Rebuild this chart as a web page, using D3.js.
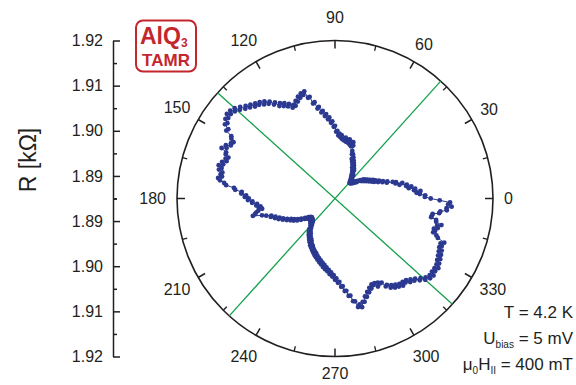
<!DOCTYPE html>
<html>
<head>
<meta charset="utf-8">
<script src="https://cdn.jsdelivr.net/npm/d3@7"></script>
<style>
  body { margin: 0; background: #fff; }
  svg { display: block; font-family: "Liberation Sans", Arial, sans-serif; }
</style>
</head>
<body>
<script>
// measurement angle (deg) and resistance (kOhm), one point per degree
const angleDeg = [
  0,1,2,3,4,5,6,7,8,9,10,11,12,13,14,15,16,17,18,19,
  20,21,22,23,24,25,26,27,28,29,30,31,32,33,34,35,36,37,38,39,
  40,41,42,43,44,45,46,47,48,49,50,51,52,53,54,55,56,57,58,59,
  60,61,62,63,64,65,66,67,68,69,70,71,72,73,74,75,76,77,78,79,
  80,81,82,83,84,85,86,87,88,89,90,91,92,93,94,95,96,97,98,99,
  100,101,102,103,104,105,106,107,108,109,110,111,112,113,114,115,116,117,118,119,
  120,121,122,123,124,125,126,127,128,129,130,131,132,133,134,135,136,137,138,139,
  140,141,142,143,144,145,146,147,148,149,150,151,152,153,154,155,156,157,158,159,
  160,161,162,163,164,165,166,167,168,169,170,171,172,173,174,175,176,177,178,179,
  180,181,182,183,184,185,186,187,188,189,190,191,192,193,194,195,196,197,198,199,
  200,201,202,203,204,205,206,207,208,209,210,211,212,213,214,215,216,217,218,219,
  220,221,222,223,224,225,226,227,228,229,230,231,232,233,234,235,236,237,238,239,
  240,241,242,243,244,245,246,247,248,249,250,251,252,253,254,255,256,257,258,259,
  260,261,262,263,264,265,266,267,268,269,270,271,272,273,274,275,276,277,278,279,
  280,281,282,283,284,285,286,287,288,289,290,291,292,293,294,295,296,297,298,299,
  300,301,302,303,304,305,306,307,308,309,310,311,312,313,314,315,316,317,318,319,
  320,321,322,323,324,325,326,327,328,329,330,331,332,333,334,335,336,337,338,339,
  340,341,342,343,344,345,346,347,348,349,350,351,352,353,354,355,356,357,358,359
];
const resistance = [
  1.9062,1.9049,1.9050,1.9038,1.9031,1.9040,1.9026,1.9029,1.9015,1.9021,
  1.9010,1.9012,1.8996,1.9003,1.8988,1.8990,1.8983,1.8970,1.8972,1.8961,
  1.8963,1.8952,1.8955,1.8944,1.8948,1.8939,1.8944,1.8934,1.8938,1.8929,
  1.8933,1.8925,1.8929,1.8921,1.8926,1.8918,1.8919,1.8910,1.8913,1.8905,
  1.8909,1.8902,1.8906,1.8899,1.8904,1.8898,1.8902,1.8897,1.8905,1.8901,
  1.8909,1.8905,1.8915,1.8910,1.8918,1.8914,1.8925,1.8920,1.8929,1.8925,
  1.8934,1.8929,1.8939,1.8935,1.8944,1.8940,1.8950,1.8945,1.8956,1.8955,
  1.8962,1.8974,1.8981,1.8971,1.8979,1.8974,1.8985,1.8977,1.8983,1.8978,
  1.8987,1.8980,1.8984,1.8982,1.8991,1.8986,1.8994,1.8990,1.9000,1.8998,
  1.9011,1.9009,1.9021,1.9018,1.9030,1.9026,1.9038,1.9034,1.9046,1.9043,
  1.9056,1.9053,1.9068,1.9066,1.9082,1.9081,1.9097,1.9090,1.9095,1.9086,
  1.9090,1.9080,1.9083,1.9073,1.9077,1.9072,1.9083,1.9079,1.9089,1.9084,
  1.9094,1.9089,1.9101,1.9098,1.9109,1.9106,1.9116,1.9111,1.9121,1.9117,
  1.9125,1.9120,1.9130,1.9126,1.9135,1.9131,1.9142,1.9138,1.9149,1.9144,
  1.9153,1.9147,1.9154,1.9146,1.9150,1.9141,1.9144,1.9132,1.9134,1.9118,
  1.9115,1.9107,1.9111,1.9109,1.9119,1.9115,1.9125,1.9112,1.9111,1.9103,
  1.9108,1.9104,1.9113,1.9109,1.9118,1.9110,1.9115,1.9106,1.9109,1.9105,
  1.9113,1.9108,1.9098,1.9093,1.9075,1.9072,1.9057,1.9058,1.9047,1.9050,
  1.9041,1.9043,1.9033,1.9034,1.9023,1.9025,1.9016,1.9020,1.9013,1.9022,
  1.9027,1.9030,1.9036,1.9016,1.9007,1.8996,1.8998,1.8988,1.8990,1.8980,
  1.8983,1.8973,1.8975,1.8965,1.8967,1.8957,1.8960,1.8951,1.8954,1.8944,
  1.8947,1.8937,1.8939,1.8929,1.8931,1.8922,1.8926,1.8918,1.8923,1.8916,
  1.8922,1.8917,1.8924,1.8918,1.8925,1.8920,1.8928,1.8923,1.8931,1.8928,
  1.8938,1.8934,1.8944,1.8940,1.8949,1.8944,1.8953,1.8949,1.8958,1.8953,
  1.8962,1.8957,1.8967,1.8963,1.8971,1.8966,1.8975,1.8971,1.8979,1.8975,
  1.8983,1.8978,1.8987,1.8983,1.8991,1.8987,1.8995,1.8991,1.8999,1.8995,
  1.9004,1.8999,1.9008,1.9004,1.9012,1.9009,1.9018,1.9014,1.9023,1.9020,
  1.9030,1.9027,1.9037,1.9035,1.9046,1.9045,1.9056,1.9056,1.9068,1.9068,
  1.9081,1.9082,1.9096,1.9091,1.9098,1.9087,1.9088,1.9077,1.9079,1.9069,
  1.9071,1.9062,1.9065,1.9057,1.9060,1.9057,1.9067,1.9059,1.9063,1.9063,
  1.9075,1.9073,1.9083,1.9079,1.9088,1.9083,1.9091,1.9087,1.9095,1.9088,
  1.9093,1.9090,1.9099,1.9095,1.9103,1.9101,1.9111,1.9109,1.9119,1.9116,
  1.9125,1.9120,1.9127,1.9119,1.9124,1.9119,1.9126,1.9118,1.9122,1.9114,
  1.9119,1.9111,1.9116,1.9108,1.9113,1.9105,1.9109,1.9104,1.9111,1.9094,
  1.9089,1.9080,1.9083,1.9079,1.9087,1.9084,1.9093,1.9080,1.9079,1.9067,
  1.9068,1.9069,1.9083,1.9085,1.9099,1.9098,1.9109,1.9101,1.9105,1.9082
];
const angleTicks = [0,30,60,90,120,150,180,210,240,270,300,330];
const angleMinor = [15,45,75,105,135,165,195,225,255,285,315,345];
const rTicks = [1.89,1.90,1.91,1.92];
const rMinor = [1.885,1.895,1.905,1.915];
const guideAngles = [48,138];
const infoLines = ["T = 4.2 K", "U|bias| = 5 mV", "μ|0|H|II| = 400 mT"];

const W = 576, H = 385;
const cx = 335, cy = 198.5, outerR = 158;
const ink = "#231f20", blue = "#2b3990", green = "#13a04a", red = "#c4262e";

const svg = d3.select("body").append("svg").attr("width", W).attr("height", H);

const rScale = d3.scaleLinear().domain([1.885, 1.92]).range([0, outerR]);
const rad = a => a * Math.PI / 180;
const px = (a, r) => cx + r * Math.cos(rad(a));
const py = (a, r) => cy - r * Math.sin(rad(a));

// ---- left radial axis (mirrored)
const yTop = d3.scaleLinear().domain([1.885, 1.92]).range([cy, cy - outerR]);
const yBot = d3.scaleLinear().domain([1.885, 1.92]).range([cy, cy + outerR]);
[yTop, yBot].forEach(s => {
  const g = svg.append("g").attr("transform", "translate(113,0)");
  g.call(d3.axisLeft(s).tickValues(rTicks).tickFormat(d3.format(".2f"))
    .tickSizeInner(-7).tickSizeOuter(0).tickPadding(10));
  g.append("g").call(d3.axisLeft(s).tickValues(rMinor).tickFormat("")
    .tickSizeInner(-4).tickSizeOuter(0))
    .select(".domain").remove();
  g.selectAll("path, line").attr("stroke", ink).attr("stroke-width", 1.5);
  g.selectAll("text").attr("fill", ink).attr("font-size", 16)
    .attr("font-family", "Liberation Sans, Arial, sans-serif");
});

svg.append("text")
  .attr("transform", "translate(36,160) rotate(-90)")
  .attr("text-anchor", "middle")
  .attr("font-size", 23).attr("fill", ink)
  .text("R [kΩ]");

// ---- polar frame
const polar = svg.append("g");
polar.append("circle").attr("cx", cx).attr("cy", cy).attr("r", outerR)
  .attr("fill", "none").attr("stroke", ink).attr("stroke-width", 1.6);

polar.selectAll(".tmaj").data(angleTicks).enter().append("line")
  .attr("x1", d => px(d, outerR)).attr("y1", d => py(d, outerR))
  .attr("x2", d => px(d, outerR - 8)).attr("y2", d => py(d, outerR - 8))
  .attr("stroke", ink).attr("stroke-width", 1.5);
polar.selectAll(".tmin").data(angleMinor).enter().append("line")
  .attr("x1", d => px(d, outerR)).attr("y1", d => py(d, outerR))
  .attr("x2", d => px(d, outerR - 5)).attr("y2", d => py(d, outerR - 5))
  .attr("stroke", ink).attr("stroke-width", 1.3);

polar.selectAll(".alab").data(angleTicks).enter().append("text")
  .each(function (d) {
    let r = 169 + String(d).length * 4.45;
    if (d === 90) r = 181;
    if (d === 270) r = 174.5;
    d3.select(this).attr("x", px(d, r)).attr("y", py(d, r));
  })
  .attr("text-anchor", "middle").attr("dominant-baseline", "central")
  .attr("font-size", 16).attr("fill", ink)
  .text(d => d);

// guide lines
polar.selectAll(".guide").data(guideAngles).enter().append("line")
  .attr("x1", d => px(d, outerR)).attr("y1", d => py(d, outerR))
  .attr("x2", d => px(d + 180, outerR)).attr("y2", d => py(d + 180, outerR))
  .attr("stroke", green).attr("stroke-width", 1.3);

// ---- data
const pts = angleDeg.map((a, i) => ({ a: a, v: resistance[i] }));
const line = d3.lineRadial()
  .angle(d => rad(90 - d.a))
  .radius(d => rScale(d.v))
  .curve(d3.curveLinearClosed);

const dataG = svg.append("g").attr("transform", `translate(${cx},${cy})`);
dataG.append("path").datum(pts).attr("d", line)
  .attr("fill", "none").attr("stroke", blue).attr("stroke-width", 1);
dataG.selectAll("circle").data(pts).enter().append("circle")
  .attr("cx", d => rScale(d.v) * Math.cos(rad(d.a)))
  .attr("cy", d => -rScale(d.v) * Math.sin(rad(d.a)))
  .attr("r", 2.4).attr("fill", blue);

// ---- badge
const badge = svg.append("g");
badge.append("rect").attr("x", 136).attr("y", 20.5).attr("width", 60).attr("height", 51)
  .attr("rx", 7).attr("fill", "#fff").attr("stroke", red).attr("stroke-width", 2);
const t1 = badge.append("text").attr("x", 140).attr("y", 44)
  .attr("font-size", 23).attr("font-weight", "bold").attr("fill", red);
t1.append("tspan").text("AlQ");
t1.append("tspan").attr("font-size", 12).attr("dy", 3).text("3");
badge.append("text").attr("x", 166).attr("y", 66).attr("text-anchor", "middle")
  .attr("font-size", 17).attr("font-weight", "bold").attr("fill", red).text("TAMR");

// ---- info text (parts between | are subscripts)
infoLines.forEach((s, i) => {
  const t = svg.append("text").attr("x", 573).attr("y", 318 + i * 26)
    .attr("text-anchor", "end").attr("font-size", 17).attr("fill", ink);
  s.split("|").forEach((part, j) => {
    if (!part) return;
    const sp = t.append("tspan").text(part);
    if (j % 2 === 1) sp.attr("font-size", 10).attr("baseline-shift", "-35%");
  });
});
</script>
</body>
</html>
